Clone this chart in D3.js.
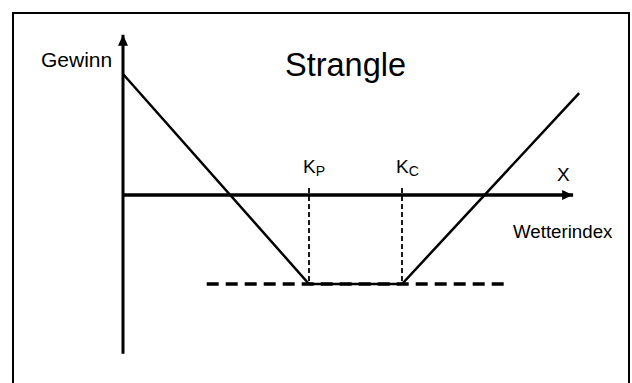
<!DOCTYPE html>
<html>
<head>
<meta charset="utf-8">
<script src="https://cdn.jsdelivr.net/npm/d3@7"></script>
<style>
  body { margin: 0; background: #fff; }
  svg text { font-family: "Liberation Sans", Arial, sans-serif; fill: #000; }
</style>
</head>
<body>
<svg id="chart" width="632" height="383"></svg>
<script>
// payoff of a strangle (long put at K_P, long call at K_C), Gewinn vs Wetterindex
const payoffX = [0, 4, 6, 9.81];
const payoffY = [2.72, -2, -2, 2.29];
const strikes = [4, 6];
const strikeNames = ["P", "C"];
const premium = -2;
const premiumSpan = [1.8, 8.26];
const xAxisEnd = 9.68;
const yAxisSpan = [-3.57, 3.6];

const svg = d3.select("#chart");

const x = d3.scaleLinear().domain([0, 10]).range([123, 588]);
const y = d3.scaleLinear().domain([0, 1]).range([195, 150.5]);

// frame
svg.append("rect")
  .attr("x", 13).attr("y", 13)
  .attr("width", 616).attr("height", 420)
  .attr("fill", "none").attr("stroke", "#000").attr("stroke-width", 2);

// arrow marker
const defs = svg.append("defs");
defs.append("marker")
  .attr("id", "arrow")
  .attr("viewBox", "0 0 11 10")
  .attr("refX", 11).attr("refY", 5)
  .attr("markerWidth", 11).attr("markerHeight", 10)
  .attr("markerUnits", "userSpaceOnUse")
  .attr("orient", "auto")
  .append("path")
  .attr("d", "M0,0L11,5L0,10Z")
  .attr("fill", "#000");

// y axis (Gewinn)
svg.append("line")
  .attr("x1", x(0)).attr("x2", x(0))
  .attr("y1", y(yAxisSpan[0])).attr("y2", y(yAxisSpan[1]))
  .attr("stroke", "#000").attr("stroke-width", 3)
  .attr("marker-end", "url(#arrow)");

// x axis (Wetterindex)
svg.append("line")
  .attr("x1", x(0)).attr("x2", x(xAxisEnd))
  .attr("y1", y(0)).attr("y2", y(0))
  .attr("stroke", "#000").attr("stroke-width", 3.5)
  .attr("marker-end", "url(#arrow)");

// strike guides
svg.selectAll(".strike")
  .data(strikes)
  .enter()
  .append("line")
  .attr("class", "strike")
  .attr("x1", d => x(d)).attr("x2", d => x(d))
  .attr("y1", y(0) - 7).attr("y2", y(premium))
  .attr("stroke", "#000").attr("stroke-width", 1.8)
  .attr("stroke-dasharray", "5,3");

// premium level, dashed
svg.append("line")
  .attr("x1", x(premiumSpan[0])).attr("x2", x(premiumSpan[1]))
  .attr("y1", y(premium)).attr("y2", y(premium))
  .attr("stroke", "#000").attr("stroke-width", 3.5)
  .attr("stroke-dasharray", "12,7");

// payoff line
const line = d3.line().x(d => x(d[0])).y(d => y(d[1]));
svg.append("path")
  .datum(d3.zip(payoffX, payoffY))
  .attr("d", line)
  .attr("fill", "none")
  .attr("stroke", "#000").attr("stroke-width", 2.5);

// labels
svg.append("text")
  .attr("x", 41).attr("y", 67)
  .style("font-size", "21px")
  .text("Gewinn");

svg.append("text")
  .attr("x", 285).attr("y", 76)
  .style("font-size", "32.5px")
  .text("Strangle");

svg.append("text")
  .attr("x", 557).attr("y", 181)
  .style("font-size", "19px")
  .text("X");

svg.append("text")
  .attr("x", 513).attr("y", 238)
  .style("font-size", "18.7px")
  .text("Wetterindex");

const kl = svg.selectAll(".klabel")
  .data(strikes)
  .enter()
  .append("text")
  .attr("class", "klabel")
  .attr("x", d => x(d) - 6).attr("y", 173)
  .style("font-size", "19px");
kl.append("tspan").text("K");
kl.append("tspan")
  .attr("dy", 3)
  .style("font-size", "14px")
  .text((d, i) => strikeNames[i]);
</script>
</body>
</html>
